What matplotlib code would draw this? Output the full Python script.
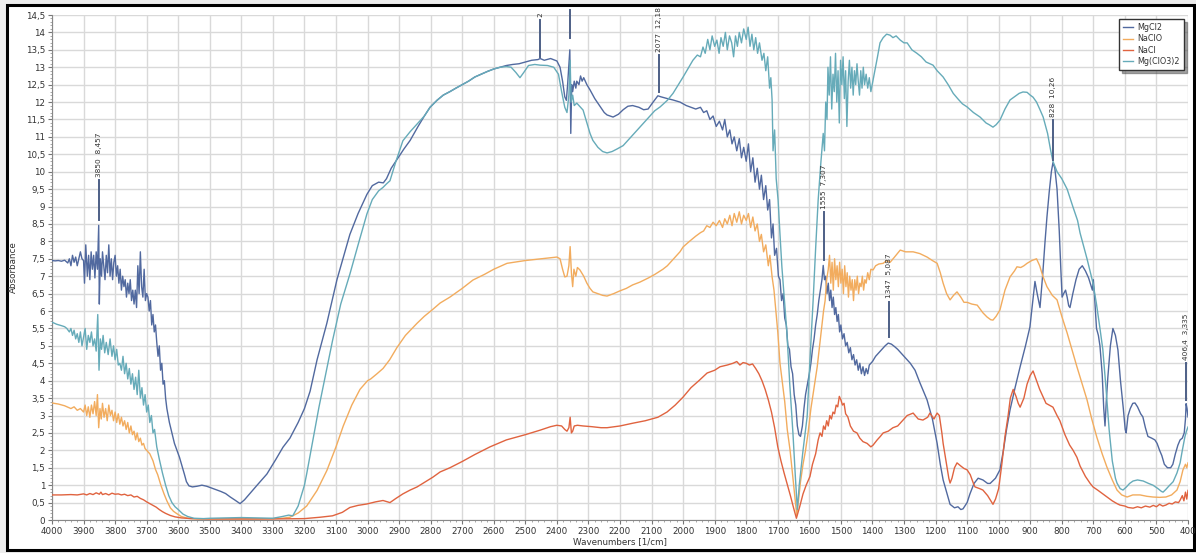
import numpy as np
import matplotlib
matplotlib.use("Agg")
import matplotlib.pyplot as plt
from matplotlib.ticker import MultipleLocator, FuncFormatter
from matplotlib.patches import Rectangle

# ---------------- data (wavenumber, absorbance) ----------------
MGCL2 = [
(4000,7.45),(3990,7.44),(3980,7.45),(3970,7.43),(3960,7.46),(3950,7.38),(3945,7.5),(3940,7.3),(3935,7.6),
(3930,7.4),(3925,7.55),(3920,7.3),(3915,7.5),(3910,7.7),(3905,7.5),(3900,7.45),(3897,6.8),(3893,7.9),
(3888,7.0),(3884,7.6),(3880,6.9),(3876,7.7),(3872,7.2),(3868,7.6),(3864,6.95),(3860,7.7),(3856,7.2),
(3852,8.46),(3850,6.2),(3847,7.5),(3843,7.0),(3840,7.7),(3836,7.3),(3832,6.9),(3828,7.6),(3824,7.1),
(3820,7.9),(3816,7.0),(3812,7.5),(3808,6.9),(3804,7.4),(3800,7.6),(3796,7.0),(3792,7.3),(3788,6.8),
(3784,7.2),(3780,6.6),(3776,7.0),(3772,6.7),(3768,6.9),(3764,6.4),(3760,6.8),(3756,6.5),(3752,6.9),
(3748,6.3),(3744,6.6),(3740,6.2),(3736,6.6),(3732,6.1),(3728,7.3),(3724,6.5),(3720,7.7),(3716,6.7),
(3712,6.4),(3708,7.2),(3704,6.3),(3700,6.5),(3696,6.4),(3692,6.0),(3688,6.3),(3684,5.6),(3680,5.9),
(3676,5.4),(3672,5.6),(3668,5.1),(3664,4.7),(3660,5.0),(3656,4.3),(3652,4.5),(3648,3.9),(3644,4.0),
(3640,3.5),(3636,3.2),(3632,3.0),(3628,2.8),(3620,2.5),(3612,2.2),(3604,2.0),(3596,1.8),(3588,1.55),
(3580,1.3),(3574,1.1),(3566,0.98),(3555,0.95),(3540,0.97),(3525,1.0),(3510,0.97),(3495,0.92),(3480,0.87),
(3465,0.82),(3450,0.76),(3435,0.66),(3420,0.57),(3404,0.47),(3390,0.58),(3373,0.76),(3350,1.0),
(3319,1.32),(3290,1.75),(3268,2.09),(3246,2.35),(3220,2.8),(3200,3.2),(3182,3.7),(3160,4.6),(3129,5.65),
(3097,6.9),(3075,7.6),(3056,8.2),(3030,8.8),(3002,9.35),(2985,9.6),(2965,9.7),(2950,9.68),(2940,9.8),
(2925,10.1),(2907,10.35),(2885,10.65),(2865,10.9),(2840,11.3),(2820,11.6),(2802,11.85),(2780,12.05),
(2760,12.2),(2739,12.3),(2720,12.4),(2700,12.5),(2680,12.6),(2660,12.72),(2640,12.8),(2620,12.88),
(2600,12.95),(2580,13.0),(2560,13.05),(2540,13.08),(2520,13.1),(2500,13.15),(2480,13.2),(2460,13.22),
(2453,13.25),(2440,13.2),(2420,13.25),(2400,13.18),(2390,13.0),(2382,12.6),(2375,12.15),(2370,12.05),
(2366,12.5),(2362,13.1),(2359,13.5),(2356,11.1),(2353,12.5),(2350,12.3),(2345,12.6),(2340,12.4),
(2337,12.6),(2330,12.5),(2325,12.75),(2320,12.6),(2315,12.7),(2305,12.5),(2295,12.35),(2280,12.1),
(2265,11.9),(2250,11.7),(2241,11.63),(2222,11.57),(2205,11.65),(2190,11.78),(2175,11.88),(2160,11.9),
(2140,11.85),(2125,11.78),(2111,11.8),(2095,12.0),(2080,12.18),(2070,12.15),(2050,12.1),(2032,12.06),
(2010,12.0),(1990,11.9),(1978,11.86),(1960,11.8),(1945,11.85),(1935,11.7),(1925,11.75),(1915,11.5),
(1905,11.6),(1895,11.3),(1885,11.45),(1875,11.2),(1868,11.5),(1860,11.0),(1852,11.2),(1845,10.8),
(1838,11.0),(1830,10.6),(1822,10.95),(1815,10.4),(1808,10.7),(1800,10.3),(1793,10.8),(1786,10.0),
(1779,10.4),(1772,9.7),(1765,10.1),(1758,9.5),(1752,9.9),(1745,9.2),(1738,9.6),(1732,8.9),(1726,9.2),
(1720,8.1),(1715,8.5),(1710,7.6),(1704,7.8),(1698,7.0),(1693,6.9),(1688,6.3),(1683,6.5),(1678,5.8),
(1673,5.6),(1668,5.0),(1663,4.9),(1658,4.4),(1653,4.2),(1648,3.6),(1643,3.3),(1638,2.7),(1633,2.45),
(1628,2.4),(1622,2.7),(1617,3.2),(1612,3.6),(1606,3.9),(1600,4.2),(1595,4.5),(1590,4.9),(1585,5.2),
(1580,5.6),(1575,5.9),(1570,6.3),(1565,6.6),(1560,6.9),(1556,7.31),(1552,6.9),(1548,7.0),(1544,6.5),
(1540,6.8),(1536,6.3),(1532,6.6),(1528,6.1),(1524,6.4),(1520,5.9),(1516,6.1),(1512,5.7),(1508,5.9),
(1504,5.4),(1500,5.6),(1495,5.2),(1490,5.35),(1485,5.0),(1480,5.1),(1475,4.8),(1470,4.95),(1465,4.6),
(1460,4.75),(1455,4.45),(1450,4.6),(1445,4.3),(1440,4.5),(1435,4.2),(1430,4.4),(1425,4.15),(1420,4.35),
(1415,4.2),(1410,4.45),(1400,4.55),(1390,4.7),(1380,4.8),(1370,4.9),(1360,5.0),(1350,5.08),(1340,5.05),
(1330,4.98),(1320,4.9),(1310,4.8),(1300,4.7),(1290,4.6),(1280,4.5),(1265,4.3),(1250,3.95),(1227,3.45),
(1210,2.9),(1195,2.2),(1185,1.6),(1176,1.15),(1165,0.8),(1154,0.45),(1140,0.35),(1129,0.38),(1120,0.3),
(1113,0.32),(1100,0.5),(1091,0.75),(1078,1.05),(1065,1.2),(1050,1.15),(1035,1.05),(1027,1.05),
(1010,1.2),(996,1.44),(985,2.0),(975,2.6),(964,3.16),(948,3.8),(932,4.4),(915,5.0),(901,5.54),(893,6.2),
(885,6.85),(878,6.5),(869,6.1),(860,7.1),(853,8.0),(847,8.7),(840,9.4),(833,10.0),(828,10.26),
(822,10.1),(815,9.5),(808,8.3),(803,7.2),(799,6.4),(794,6.5),(788,6.6),(783,6.4),(778,6.15),(774,6.1),
(765,6.5),(755,6.9),(745,7.2),(735,7.3),(725,7.15),(715,6.95),(708,6.75),(703,6.6),(700,6.9),(696,6.4),
(690,5.5),(684,5.3),(679,5.0),(672,4.2),(667,3.2),(663,2.7),(659,3.4),(654,4.1),(646,5.0),(638,5.5),
(630,5.3),(622,4.88),(614,4.0),(605,3.2),(599,2.6),(596,2.5),(590,3.0),(583,3.2),(575,3.35),(568,3.36),
(560,3.25),(550,3.05),(543,2.96),(535,2.65),(527,2.4),(515,2.35),(505,2.3),(498,2.2),(490,2.0),
(483,1.85),(475,1.6),(465,1.5),(455,1.5),(448,1.6),(440,1.9),(432,2.15),(425,2.3),(418,2.35),(412,2.5),
(408,2.9),(406,3.34),(403,3.2),(400,2.96)]

NACLO = [
(4000,3.36),(3980,3.33),(3960,3.28),(3950,3.24),(3940,3.2),(3930,3.25),(3920,3.15),(3910,3.2),(3900,3.1),
(3895,3.3),(3890,3.0),(3885,3.25),(3880,2.95),(3875,3.3),(3870,3.05),(3865,3.4),(3860,3.0),(3856,3.6),
(3852,2.65),(3848,3.2),(3844,2.9),(3840,3.35),(3835,2.95),(3830,3.2),(3825,2.85),(3820,3.3),(3815,3.0),
(3810,3.15),(3805,2.85),(3800,3.1),(3795,2.8),(3790,3.05),(3785,2.75),(3780,2.95),(3775,2.7),(3770,2.85),
(3765,2.6),(3760,2.8),(3755,2.5),(3750,2.7),(3745,2.45),(3740,2.55),(3735,2.3),(3730,2.5),(3725,2.25),
(3720,2.35),(3715,2.15),(3710,2.2),(3705,2.05),(3700,2.0),(3690,1.9),(3680,1.7),(3672,1.45),(3665,1.3),
(3655,1.0),(3645,0.75),(3636,0.55),(3625,0.35),(3615,0.25),(3604,0.18),(3590,0.1),(3570,0.05),
(3540,0.03),(3500,0.03),(3450,0.03),(3400,0.03),(3350,0.03),(3300,0.04),(3270,0.05),(3246,0.08),
(3220,0.2),(3193,0.4),(3160,0.85),(3129,1.42),(3100,2.1),(3077,2.7),(3050,3.3),(3024,3.75),(3000,4.0),
(2990,4.05),(2970,4.2),(2951,4.35),(2930,4.6),(2907,4.95),(2880,5.3),(2843,5.65),(2820,5.85),(2793,6.05),
(2770,6.23),(2739,6.4),(2700,6.65),(2666,6.89),(2630,7.05),(2600,7.2),(2558,7.37),(2500,7.45),(2450,7.5),
(2400,7.55),(2390,7.5),(2382,7.2),(2375,6.98),(2368,7.0),(2362,7.3),(2358,7.85),(2354,7.1),(2350,6.7),
(2346,7.2),(2340,7.0),(2335,7.25),(2327,7.18),(2315,7.0),(2305,6.8),(2295,6.65),(2286,6.55),(2270,6.5),
(2255,6.45),(2241,6.43),(2220,6.5),(2200,6.58),(2180,6.65),(2160,6.75),(2137,6.83),(2110,6.95),
(2090,7.05),(2064,7.2),(2050,7.3),(2030,7.5),(2010,7.7),(2000,7.84),(1980,8.0),(1960,8.15),(1945,8.25),
(1935,8.3),(1925,8.45),(1915,8.4),(1905,8.55),(1895,8.45),(1885,8.6),(1875,8.4),(1868,8.65),(1860,8.5),
(1852,8.75),(1845,8.45),(1838,8.8),(1830,8.55),(1822,8.85),(1815,8.5),(1808,8.75),(1800,8.6),(1793,8.8),
(1786,8.4),(1779,8.7),(1772,8.3),(1765,8.5),(1758,8.0),(1752,8.2),(1745,7.7),(1738,7.9),(1730,7.3),
(1725,7.6),(1718,6.98),(1712,6.6),(1706,6.0),(1700,5.4),(1693,4.5),(1685,3.9),(1678,3.4),(1670,2.6),
(1661,2.0),(1652,1.2),(1645,0.6),(1640,0.15),(1635,0.5),(1628,1.1),(1620,1.6),(1612,2.0),(1604,2.5),
(1595,3.2),(1585,3.8),(1575,4.4),(1565,5.2),(1560,5.6),(1555,6.0),(1550,6.3),(1545,6.9),(1540,7.2),
(1536,7.6),(1532,6.8),(1528,7.4),(1524,6.6),(1520,7.5),(1516,6.9),(1512,7.3),(1508,6.7),(1504,7.4),
(1500,6.8),(1496,7.2),(1492,6.5),(1488,7.3),(1484,6.7),(1480,7.1),(1476,6.4),(1472,7.0),(1468,6.6),
(1464,6.9),(1460,6.3),(1456,6.9),(1452,6.6),(1448,7.0),(1444,6.5),(1440,6.8),(1436,6.7),(1432,7.0),
(1428,6.6),(1424,6.9),(1420,6.8),(1415,7.1),(1410,6.9),(1405,7.2),(1398,7.18),(1390,7.3),(1380,7.35),
(1366,7.37),(1355,7.45),(1344,7.4),(1330,7.55),(1312,7.75),(1295,7.7),(1271,7.7),(1250,7.65),
(1227,7.55),(1210,7.45),(1195,7.37),(1185,7.1),(1176,6.8),(1165,6.5),(1154,6.32),(1143,6.45),
(1132,6.55),(1120,6.4),(1110,6.25),(1100,6.25),(1085,6.2),(1068,6.17),(1050,5.95),(1037,5.83),
(1025,5.75),(1018,5.74),(1008,5.85),(996,6.03),(980,6.6),(964,6.98),(950,7.15),(942,7.27),(930,7.25),
(920,7.3),(910,7.37),(895,7.45),(880,7.5),(870,7.3),(860,7.0),(847,6.7),(830,6.45),(815,6.32),(800,5.85),
(783,5.37),(768,4.9),(752,4.4),(735,3.9),(720,3.45),(705,2.9),(689,2.38),(672,1.9),(657,1.52),(640,1.15),
(625,0.86),(610,0.72),(593,0.66),(575,0.72),(552,0.72),(530,0.68),(511,0.66),(490,0.65),(470,0.66),
(452,0.72),(435,0.86),(425,1.1),(416,1.44),(408,1.6),(404,1.5),(400,1.64)]

NACL = [
(4000,0.72),(3970,0.72),(3940,0.73),(3920,0.72),(3900,0.75),(3890,0.72),(3880,0.76),(3870,0.73),
(3860,0.78),(3850,0.74),(3845,0.8),(3840,0.73),(3830,0.76),(3820,0.72),(3810,0.77),(3800,0.74),
(3790,0.75),(3780,0.72),(3770,0.74),(3760,0.7),(3750,0.72),(3740,0.66),(3730,0.68),(3720,0.62),
(3710,0.58),(3700,0.52),(3690,0.47),(3680,0.42),(3670,0.37),(3660,0.3),(3650,0.24),(3640,0.19),
(3625,0.13),(3610,0.09),(3590,0.06),(3560,0.04),(3500,0.03),(3400,0.03),(3300,0.03),(3200,0.04),
(3150,0.08),(3111,0.12),(3080,0.22),(3056,0.36),(3030,0.42),(3002,0.46),(2975,0.52),(2951,0.56),
(2929,0.5),(2910,0.62),(2888,0.75),(2865,0.86),(2843,0.95),(2820,1.08),(2793,1.23),(2770,1.38),
(2739,1.5),(2700,1.68),(2660,1.88),(2612,2.1),(2560,2.3),(2500,2.45),(2453,2.58),(2420,2.68),
(2400,2.72),(2385,2.7),(2375,2.6),(2368,2.55),(2362,2.65),(2358,2.95),(2354,2.5),(2350,2.55),
(2345,2.7),(2335,2.72),(2317,2.7),(2290,2.68),(2260,2.65),(2241,2.65),(2200,2.7),(2159,2.78),
(2120,2.85),(2080,2.95),(2051,3.1),(2025,3.3),(2000,3.53),(1975,3.8),(1950,4.0),(1924,4.22),(1900,4.3),
(1883,4.4),(1860,4.45),(1842,4.5),(1830,4.55),(1820,4.45),(1810,4.52),(1800,4.5),(1790,4.45),
(1780,4.48),(1770,4.35),(1760,4.2),(1750,4.0),(1740,3.75),(1730,3.45),(1720,3.1),(1710,2.65),
(1700,2.1),(1690,1.7),(1680,1.35),(1671,1.06),(1660,0.7),(1650,0.35),(1641,0.05),(1630,0.4),
(1620,0.75),(1610,1.0),(1598,1.25),(1590,1.6),(1580,1.9),(1572,2.3),(1566,2.5),(1560,2.4),(1555,2.7),
(1550,2.6),(1545,2.85),(1540,2.7),(1535,3.0),(1530,2.9),(1525,3.1),(1520,3.05),(1515,3.3),(1510,3.25),
(1505,3.55),(1500,3.45),(1495,3.3),(1490,3.35),(1485,3.05),(1478,2.96),(1470,2.7),(1460,2.55),
(1449,2.5),(1440,2.35),(1430,2.25),(1417,2.2),(1405,2.1),(1398,2.15),(1385,2.3),(1375,2.4),(1366,2.5),
(1350,2.55),(1335,2.65),(1320,2.7),(1312,2.78),(1300,2.9),(1290,3.0),(1271,3.07),(1255,2.9),
(1240,2.87),(1225,2.95),(1218,3.07),(1205,2.9),(1195,3.07),(1188,3.0),(1180,2.5),(1176,2.2),(1165,1.6),
(1158,1.2),(1154,1.06),(1148,1.2),(1140,1.5),(1132,1.64),(1120,1.55),(1110,1.48),(1100,1.44),
(1090,1.3),(1080,1.05),(1075,0.95),(1060,0.9),(1050,0.86),(1035,0.7),(1025,0.55),(1018,0.45),
(1010,0.6),(1000,0.9),(990,1.6),(980,2.4),(970,3.0),(963,3.5),(954,3.75),(945,3.55),(938,3.35),
(932,3.24),(920,3.5),(910,3.9),(900,4.15),(891,4.28),(882,4.05),(870,3.75),(859,3.53),(850,3.35),
(840,3.3),(828,3.24),(815,3.0),(806,2.85),(790,2.45),(775,2.15),(764,2.0),(752,1.8),(742,1.55),
(725,1.25),(710,1.05),(701,0.95),(685,0.85),(670,0.75),(657,0.66),(640,0.55),(625,0.47),(616,0.43),
(600,0.4),(590,0.36),(574,0.34),(560,0.38),(548,0.35),(535,0.4),(521,0.37),(510,0.42),(500,0.38),
(490,0.45),(480,0.4),(470,0.43),(460,0.48),(450,0.46),(440,0.52),(430,0.5),(425,0.57),(418,0.7),
(413,0.55),(408,0.8),(404,0.6),(400,0.85)]

MGCLO3 = [
(4000,5.68),(3985,5.62),(3970,5.58),(3960,5.55),(3953,5.5),(3945,5.4),(3940,5.5),(3935,5.3),(3930,5.45),
(3925,5.2),(3920,5.35),(3915,5.1),(3910,5.4),(3905,5.0),(3900,5.25),(3895,5.5),(3890,4.9),(3885,5.3),
(3880,5.1),(3875,5.4),(3870,5.0),(3865,5.2),(3860,4.85),(3855,5.9),(3851,4.3),(3847,5.2),(3843,4.9),
(3838,5.3),(3833,4.8),(3828,5.1),(3822,4.75),(3816,5.2),(3810,4.7),(3805,5.0),(3800,4.6),(3795,4.9),
(3790,4.45),(3785,4.5),(3780,4.3),(3775,4.7),(3770,4.2),(3765,4.5),(3760,4.05),(3755,4.35),(3750,3.9),
(3745,4.2),(3740,3.75),(3735,4.1),(3730,3.6),(3725,4.3),(3720,3.5),(3715,3.8),(3710,3.3),(3705,3.6),
(3700,3.1),(3695,3.3),(3690,2.8),(3685,3.0),(3680,2.5),(3675,2.6),(3668,2.1),(3660,1.75),(3650,1.35),
(3640,1.0),(3630,0.7),(3620,0.5),(3610,0.38),(3600,0.3),(3585,0.17),(3570,0.1),(3550,0.05),(3520,0.04),
(3500,0.05),(3450,0.06),(3400,0.07),(3350,0.06),(3300,0.05),(3270,0.1),(3250,0.14),(3237,0.12),
(3220,0.4),(3200,1.0),(3193,1.32),(3175,2.2),(3154,3.24),(3130,4.3),(3111,5.15),(3085,6.2),(3056,7.06),
(3030,7.9),(3002,8.79),(2985,9.2),(2965,9.45),(2951,9.55),(2940,9.65),(2929,9.74),(2910,10.3),
(2888,10.89),(2865,11.15),(2843,11.37),(2820,11.6),(2802,11.85),(2780,12.05),(2760,12.2),(2739,12.3),
(2720,12.4),(2700,12.5),(2680,12.6),(2660,12.72),(2640,12.8),(2620,12.88),(2600,12.95),(2580,13.0),
(2560,13.02),(2545,13.0),(2530,12.85),(2517,12.7),(2505,12.85),(2490,13.05),(2470,13.08),(2453,13.06),
(2430,13.05),(2410,13.0),(2395,12.8),(2385,12.3),(2375,11.85),(2368,11.7),(2362,12.2),(2358,13.2),
(2355,12.0),(2350,12.2),(2345,11.9),(2337,11.97),(2325,11.85),(2317,11.77),(2305,11.4),(2295,11.1),
(2286,10.9),(2270,10.7),(2255,10.58),(2241,10.54),(2225,10.58),(2210,10.65),(2190,10.75),(2170,10.95),
(2150,11.15),(2137,11.28),(2110,11.55),(2090,11.75),(2073,11.86),(2050,12.05),(2032,12.25),(2015,12.5),
(2000,12.72),(1985,12.95),(1969,13.2),(1955,13.35),(1945,13.3),(1937,13.58),(1930,13.4),(1922,13.8),
(1915,13.5),(1908,13.9),(1900,13.6),(1893,13.78),(1886,13.4),(1880,13.85),(1873,13.6),(1866,14.0),
(1860,13.5),(1853,13.9),(1846,13.7),(1840,13.3),(1834,13.9),(1828,13.6),(1822,14.0),(1815,13.7),
(1808,14.1),(1800,13.8),(1794,14.15),(1788,13.6),(1782,13.95),(1776,13.5),(1770,13.85),(1764,13.4),
(1758,13.7),(1750,13.2),(1744,13.4),(1738,12.9),(1732,13.3),(1726,12.4),(1722,12.7),(1718,12.06),
(1715,10.6),(1710,11.2),(1705,9.8),(1699,9.19),(1693,8.2),(1687,7.27),(1679,6.3),(1671,5.37),
(1662,3.9),(1652,2.5),(1644,1.2),(1638,0.3),(1632,1.0),(1620,2.0),(1607,2.96),(1598,4.6),(1588,6.3),
(1580,7.8),(1572,9.19),(1564,10.2),(1556,11.1),(1552,10.6),(1548,12.0),(1544,11.5),(1541,13.0),
(1537,12.2),(1533,13.3),(1529,11.8),(1525,12.8),(1521,12.3),(1517,13.4),(1513,12.0),(1509,12.9),
(1505,11.4),(1501,13.2),(1497,12.5),(1493,13.3),(1489,12.1),(1485,12.9),(1481,11.3),(1477,12.6),
(1473,13.2),(1469,12.4),(1465,13.0),(1461,12.2),(1457,12.9),(1453,12.5),(1449,13.1),(1445,12.6),
(1441,12.2),(1437,12.9),(1433,12.4),(1429,13.0),(1425,12.5),(1420,12.8),(1415,12.4),(1410,12.7),
(1405,12.3),(1398,12.63),(1390,13.0),(1384,13.3),(1376,13.7),(1366,13.85),(1355,13.95),(1344,13.92),
(1335,13.85),(1325,13.9),(1312,13.78),(1300,13.7),(1290,13.7),(1275,13.5),(1259,13.4),(1245,13.3),
(1230,13.15),(1208,13.06),(1195,12.9),(1176,12.72),(1160,12.5),(1144,12.25),(1130,12.1),(1115,11.95),
(1100,11.86),(1080,11.7),(1059,11.57),(1040,11.4),(1030,11.35),(1018,11.28),(1008,11.35),(996,11.48),
(980,11.8),(964,12.06),(950,12.15),(935,12.25),(923,12.29),(910,12.28),(900,12.2),(891,12.14),
(880,12.0),(870,11.8),(859,11.57),(845,11.1),(835,10.6),(828,10.3),(815,10.0),(800,9.8),(783,9.5),
(765,9.0),(750,8.6),(742,8.24),(720,7.5),(701,6.8),(690,6.2),(679,5.5),(670,4.9),(660,3.8),(650,2.6),
(640,1.7),(630,1.2),(625,1.06),(615,0.9),(606,0.86),(595,0.95),(585,1.05),(574,1.12),(560,1.15),
(542,1.12),(525,1.05),(511,1.0),(495,0.9),(484,0.82),(479,0.8),(470,0.88),(460,0.98),(447,1.1),
(435,1.35),(425,1.64),(418,2.0),(410,2.38),(405,2.55),(400,2.67)]

SERIES_NAMES = ["MgCl2", "NaClO", "NaCl", "Mg(ClO3)2"]
SERIES_COLORS = ["#51699f", "#f2ac5e", "#e0633f", "#66abb9"]

# peak annotations: (wavenumber, line start, line end, label)
PEAKS = [
    (3850, 8.6, 9.76, "3850  8,457"),
    (2453, 13.3, 14.35, "2"),
    (2359, 13.85, 14.65, ""),
    (2077, 12.3, 13.35, "2077  12,18"),
    (1555, 7.46, 8.84, "1555  7,307"),
    (1347, 5.25, 6.26, "1347  5,087"),
    (828, 10.34, 11.48, "828  10,26"),
    (406.4, 3.45, 4.5, "406,4  3,335"),
]

X_TICKS = list(range(4000, 399, -100))

# ---------------- figure ----------------
W, H = 1196, 553
fig = plt.figure(figsize=(W / 100, H / 100), dpi=100, facecolor="#ededed")
frame = Rectangle((7 / W, 3 / H), (1194 - 7) / W, (548 - 3) / H,
                  transform=fig.transFigure, facecolor="white",
                  edgecolor="black", linewidth=2.2, zorder=-5)
fig.patches.append(frame)

ax = fig.add_axes([52 / W, (H - 520) / H, (1188 - 52) / W, (520 - 15) / H])
ax.set_zorder(2)
ax.set_facecolor("white")

for data, name, col in zip([MGCL2, NACLO, NACL, MGCLO3], SERIES_NAMES, SERIES_COLORS):
    arr = np.array(data, dtype=float)
    ax.plot(arr[:, 0], arr[:, 1], color=col, lw=1.0, label=name, zorder=3)

for wn, y0, y1, lab in PEAKS:
    ax.plot([wn, wn], [y0, y1], color="#4d5f86", lw=1.4, zorder=4, clip_on=False)
    if lab:
        ax.text(wn, y1 + 0.1, lab, rotation=90, ha="center", va="bottom",
                fontsize=5.3, color="#333333", zorder=5, clip_on=False)

ax.set_xlim(4000, 400)
ax.set_ylim(0, 14.5)
ax.set_xticks(X_TICKS)
ax.yaxis.set_major_locator(MultipleLocator(0.5))
ax.yaxis.set_minor_locator(MultipleLocator(0.1))
ax.xaxis.set_minor_locator(MultipleLocator(20))
ax.yaxis.set_major_formatter(FuncFormatter(lambda v, p: f"{v:g}".replace(".", ",")))
ax.grid(True, which="major", color="#d9d9d9", lw=1.0, zorder=0)
ax.tick_params(which="major", labelsize=6.3, length=3, color="#777777", pad=2, labelcolor="#333333")
ax.tick_params(which="minor", length=1.5, color="#999999")
for s in ["top", "right"]:
    ax.spines[s].set_visible(False)
for s in ["left", "bottom"]:
    ax.spines[s].set_color("#888888")
    ax.spines[s].set_linewidth(0.8)

ax.set_ylabel("Absorbance", fontsize=6.3, color="#333333")
ax.yaxis.set_label_coords(-0.030, 0.5)
ax.set_xlabel("Wavenumbers [1/cm]", fontsize=6.3, color="#333333", labelpad=1)

leg = ax.legend(loc="upper right", bbox_to_anchor=(1.0, 1.0), fontsize=5.8, frameon=True,
                fancybox=False, handlelength=1.2, handletextpad=0.6, borderpad=0.5,
                labelspacing=0.3, shadow=True)
leg.get_frame().set_edgecolor("#333333")
leg.get_frame().set_linewidth(1.0)
for t in leg.get_texts():
    t.set_color("#333333")

fig.savefig("out.png", dpi=100, facecolor=fig.get_facecolor())
